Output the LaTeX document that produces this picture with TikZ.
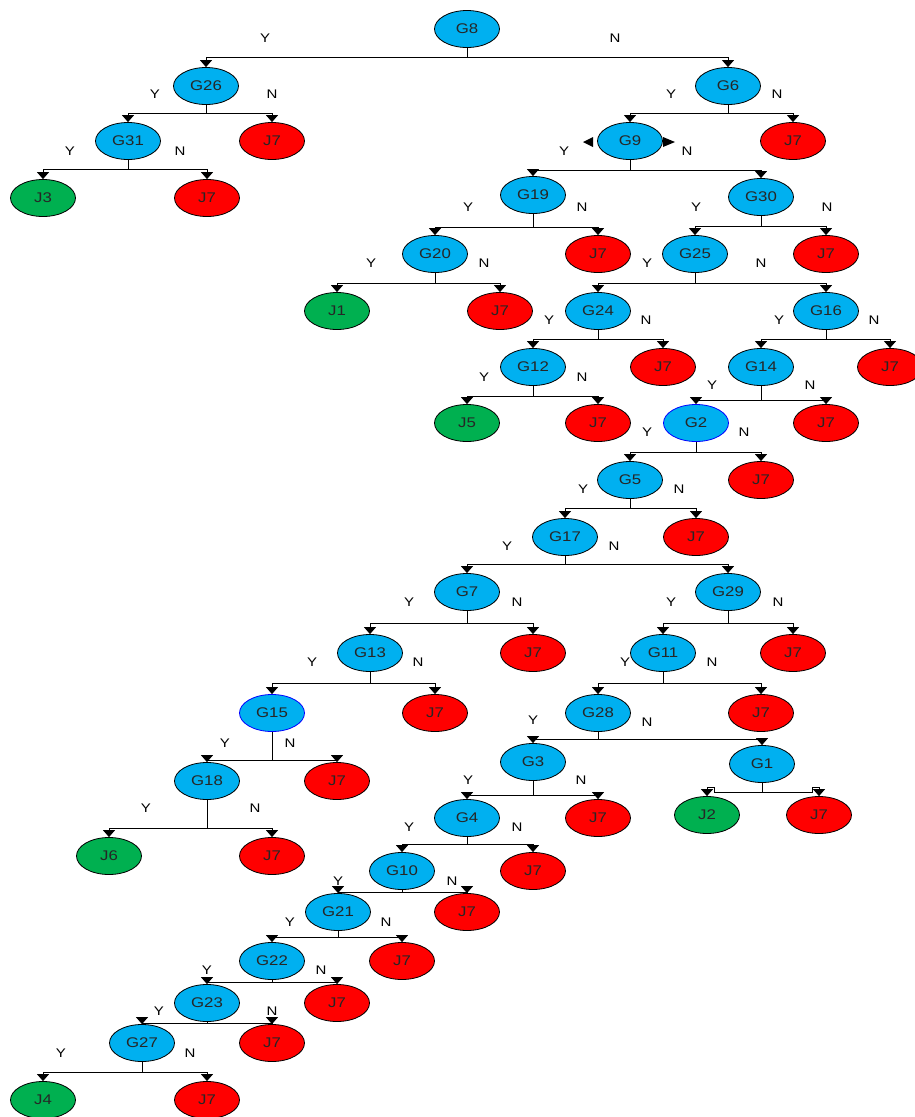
\documentclass[tikz,border=0pt]{standalone}
\usepackage{fontspec}
\setmainfont{Liberation Sans}[FakeStretch=1.2]
\usetikzlibrary{arrows.meta,shapes.geometric}
\definecolor{gateblue}{RGB}{0,176,240}
\definecolor{leafred}{RGB}{255,0,0}
\definecolor{leafgreen}{RGB}{0,176,80}

\begin{document}
\begin{tikzpicture}[x=1pt,y=-1pt,
    font=\fontsize{14}{16}\selectfont,
    gate/.style={ellipse, draw=black, line width=0.8pt, fill=gateblue,
      text=black!85, minimum width=65pt, minimum height=37pt, inner sep=0pt},
    bad/.style={gate, fill=leafred},
    good/.style={gate, fill=leafgreen},
    picked/.style={gate, draw=blue},
    edge/.style={line width=0.9pt, -{Triangle[width=12pt,length=7pt]}},
    lab/.style={font=\fontsize{12.5}{14}\selectfont}]
    \useasboundingbox (0,0) rectangle (915,1117);

    % test gates
    \node[gate] (G8) at (467,29) {G8};
    \node[gate] (G26) at (206,86) {G26};
    \node[gate] (G6) at (728,86) {G6};
    \node[gate] (G31) at (128,141) {G31};
    \node[gate] (G9) at (630,141) {G9};
    \node[gate] (G19) at (533,195) {G19};
    \node[gate] (G30) at (761,197) {G30};
    \node[gate] (G20) at (435,254) {G20};
    \node[gate] (G25) at (695,254) {G25};
    \node[gate] (G24) at (598,311) {G24};
    \node[gate] (G16) at (826,311) {G16};
    \node[gate] (G12) at (533,367) {G12};
    \node[gate] (G14) at (761,367) {G14};
    \node[picked] (G2) at (696,423) {G2};
    \node[gate] (G5) at (630,480) {G5};
    \node[gate] (G17) at (565,537) {G17};
    \node[gate] (G7) at (467,592) {G7};
    \node[gate] (G29) at (728,592) {G29};
    \node[gate] (G13) at (370,653) {G13};
    \node[gate] (G11) at (663,653) {G11};
    \node[picked] (G15) at (272,713) {G15};
    \node[gate] (G28) at (598,713) {G28};
    \node[gate] (G18) at (207,781) {G18};
    \node[gate] (G3) at (533,762) {G3};
    \node[gate] (G1) at (762,764) {G1};
    \node[gate] (G4) at (467,818) {G4};
    \node[gate] (G10) at (402,871) {G10};
    \node[gate] (G21) at (338,912) {G21};
    \node[gate] (G22) at (272,961) {G22};
    \node[gate] (G23) at (207,1003) {G23};
    \node[gate] (G27) at (142,1043) {G27};

    % pass leaves
    \node[good] (J3) at (43,198) {J3};
    \node[good] (J1) at (337,311) {J1};
    \node[good] (J5) at (467,423) {J5};
    \node[good] (J6) at (109,856) {J6};
    \node[good] (J2) at (707,815) {J2};
    \node[good] (J4) at (43,1100) {J4};

    % fail leaves (named after their parent)
    \foreach \g/\x/\y in {26/272/141, 31/207/198, 6/793/141, 19/598/254,
        30/826/254, 20/500/311, 24/663/367, 16/890/367, 12/598/423,
        14/826/423, 2/761/480, 5/696/537, 7/533/653, 29/793/653,
        13/435/713, 11/761/713, 15/337/781, 18/272/856, 3/598/818,
        1/819/815, 4/533/871, 10/467/912, 21/402/961, 22/337/1003,
        23/272/1043, 27/207/1100}
      \node[bad] (J7n\g) at (\x,\y) {J7};

    % branches: parent / bus height / yes child / no child
    \foreach \p/\b/\yc/\nc in {G8/57/G26/G6, G26/113/G31/J7n26,
        G31/169/J3/J7n31, G6/113/G9/J7n6, G9/170/G19/G30,
        G19/227/G20/J7n19, G30/226/G25/J7n30, G20/283/J1/J7n20,
        G25/283/G24/G16, G24/339/G12/J7n24, G16/339/G14/J7n16,
        G12/396/J5/J7n12, G14/400/G2/J7n14, G2/452/G5/J7n2,
        G5/508/G17/J7n5, G17/564/G7/G29, G7/623/G13/J7n7,
        G29/623/G11/J7n29, G13/683/G15/J7n13, G11/683/G28/J7n11,
        G15/760/G18/J7n15, G28/739/G3/G1, G18/828/J6/J7n18,
        G3/795/G4/J7n3, G4/844/G10/J7n4, G10/892/G21/J7n10,
        G21/937/G22/J7n21, G22/982/G23/J7n22, G23/1023/G27/J7n23,
        G27/1072/J4/J7n27} {
      \draw[edge] (\p.south) -- (\p.south |- 0,\b) -| (\yc.north);
      \draw[edge] (\p.south |- 0,\b) -| (\nc.north);
    }

    % G1 branches with the small step
    \draw[edge] (G1.south) -- (G1.south |- 0,792) -- (714,792) -- (714,787) -| (J2.north);
    \draw[edge] (G1.south |- 0,792) -- (812,792) -- (812,787) -| (J7n1.north);

    % stray marks beside G9
    \fill (593,137) -- (583,142) -- (593,147) -- cycle;
    \fill (663,137) -- (675,142) -- (663,147) -- cycle;

    % Y / N labels
    \foreach \g/\a/\b/\c/\d in {8/265/38/615/38, 26/155/94/272/94,
        31/70/151/180/151, 6/671/94/777/94, 9/564/151/687/151,
        19/468/207/582/207, 30/696/207/827/207, 20/371/263/484/263,
        25/647/263/761/263, 24/549/320/646/320, 16/779/320/874/320,
        12/484/377/582/377, 14/712/385/810/385, 2/647/432/744/432,
        5/583/489/679/489, 17/507/546/614/546, 7/409/602/517/602,
        29/671/602/778/602, 13/312/662/418/662, 11/625/662/712/662,
        15/225/743/290/743, 28/533/720/647/722, 18/146/808/255/808,
        3/468/780/581/780, 4/409/827/517/827, 10/338/881/452/881,
        21/290/922/386/922, 22/207/970/321/970, 23/159/1011/272/1011,
        27/61/1053/190/1053} {
      \node[lab] (y\g) at (\a,\b) {Y};
      \node[lab] (n\g) at (\c,\d) {N};
    }
\end{tikzpicture}
\end{document}
